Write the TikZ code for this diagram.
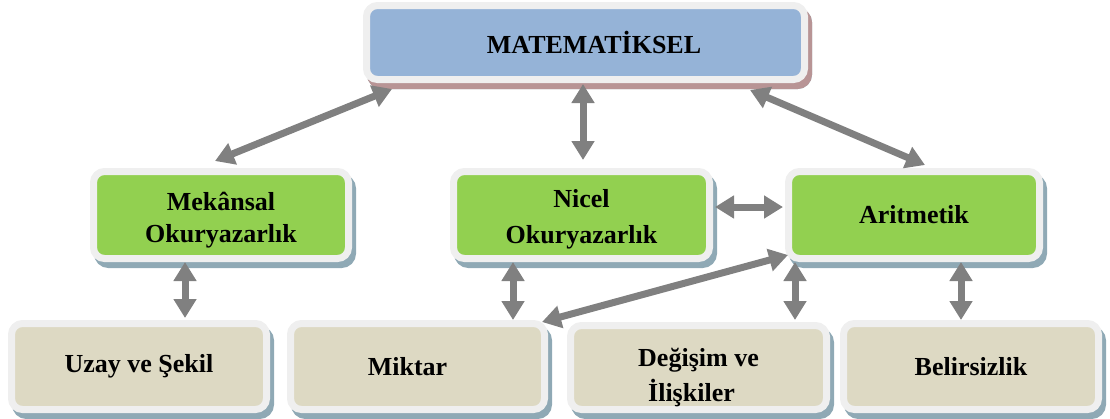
\documentclass[tikz,border=0pt]{standalone}
\usepackage{fontspec}
\setmainfont{Liberation Serif}
\usetikzlibrary{arrows.meta,calc}

\definecolor{topblue}{HTML}{95B3D7}
\definecolor{leafgreen}{HTML}{92D050}
\definecolor{sand}{HTML}{DDD9C3}
\definecolor{cardrim}{HTML}{EFEFEF}
\definecolor{slateshadow}{HTML}{8FA9B5}
\definecolor{roseshadow}{HTML}{B89495}
\definecolor{linkgray}{HTML}{808080}

\begin{document}
\begin{tikzpicture}[x=1pt,y=-1pt,
  boxfont/.style={font=\fontsize{26}{#1}\selectfont\bfseries, align=center, text=black},
  boxfont/.default=33,
  backdrop/.style={preaction={fill=#1, draw=#1, line width=7pt,
      transform canvas={shift={(4pt,-6pt)}}}},
  cardbox/.style={rounded corners=11pt, draw=cardrim, line width=7pt,
      minimum width=255pt, minimum height=87pt, inner sep=0pt, outer sep=0pt,
      boxfont, backdrop=slateshadow},
  topicbox/.style={cardbox, fill=leafgreen},
  fieldbox/.style={cardbox, fill=sand},
  linkarrow/.style={draw=linkgray, line width=7pt,
      {Triangle[width=22pt,length=19pt]}-{Triangle[width=22pt,length=19pt]}}
]
\useasboundingbox (0,0) rectangle (1110,418);

% top level
\node[cardbox, fill=topblue, backdrop=roseshadow, minimum width=438pt,
      minimum height=74pt] (top) at (585.5,42.5) {\hspace*{17pt}MATEMATİKSEL};

% middle level (two-line captions are set as labels over the box)
\node[topicbox, label={[boxfont=32, inner sep=0pt, yshift=-5pt]center:Mekânsal\\Okuryazarlık}]
      (mek) at (221,215) {};
\node[topicbox, minimum width=256pt,
      label={[boxfont=36, inner sep=0pt, yshift=-4pt]center:Nicel\\Okuryazarlık}]
      (nicel) at (581.5,215) {};
\node[topicbox, minimum width=251pt] (arit) at (914,215) {Aritmetik};

% bottom level
\node[fieldbox, minimum height=86pt] (uzay) at (139,366.5) {Uzay ve Şekil};
\node[fieldbox, minimum height=86pt, minimum width=254pt] (miktar) at (417.5,366.5) {Miktar\hspace*{20pt}};
\node[fieldbox, minimum height=84pt, minimum width=256pt,
      label={[boxfont=35, inner sep=0pt, yshift=-10pt]center:Değişim ve\\İlişkiler\hspace*{14pt}}]
      (degisim) at (698.5,367.5) {};
\node[fieldbox, minimum height=86pt] (belir) at (971,366.5) {Belirsizlik};

% connectors
\draw[linkarrow] ($(mek.north)+(-6,-10.5)$) -- ($(top.south west)+(25.5,9.5)$);
\draw[linkarrow] ($(top.south)+(-2.5,4.5)$) -- ($(nicel.north)+(1.5,-11.5)$);
\draw[linkarrow] ($(top.south east)+(-54.5,10.5)$) -- ($(arit.north)+(11,-6.5)$);
\draw[linkarrow] ($(nicel.east)+(5.5,-8)$) -- ($(arit.west)+(-5.5,-8)$);
\draw[linkarrow] ($(mek.south)+(-36,3.5)$) -- ($(uzay.north)+(46,-5.5)$);
\draw[linkarrow] ($(nicel.south)+(-68.5,3.5)$) -- ($(miktar.north)+(95.5,-3.5)$);
\draw[linkarrow] ($(miktar.north east)+(-2.5,-1.5)$) -- ($(arit.south west)+(-0.5,-3.5)$);
\draw[linkarrow] ($(arit.south west)+(6.5,3.5)$) -- ($(degisim.north east)+(-31.5,-5.5)$);
\draw[linkarrow] ($(arit.south)+(47,3.5)$) -- ($(belir.north)+(-10,-3.5)$);
\end{tikzpicture}
\end{document}
